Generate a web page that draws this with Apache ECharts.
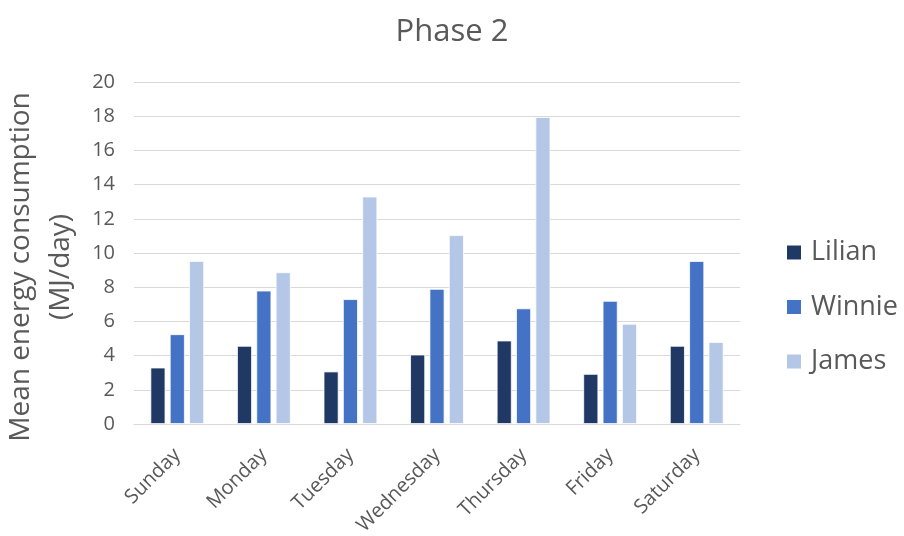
<!DOCTYPE html>
<html>
<head>
<meta charset="utf-8">
<script src="https://cdn.jsdelivr.net/npm/echarts@6/dist/echarts.min.js"></script>
<style>
  html, body { margin: 0; padding: 0; background: #fff; }
  #chart { width: 904px; height: 536px; }
</style>
</head>
<body>
<div id="chart"></div>
<script>
// Weekly mean energy consumption, phase 2
const days = ['Sunday', 'Monday', 'Tuesday', 'Wednesday', 'Thursday', 'Friday', 'Saturday'];
const lilian = [3.3, 4.57, 3.07, 4.06, 4.88, 2.93, 4.57];
const winnie = [5.25, 7.8, 7.3, 7.9, 6.76, 7.2, 9.53];
const james = [9.53, 8.87, 13.3, 11.04, 17.95, 5.86, 4.79];
const yTicks = { min: 0, max: 20, step: 2 };

const FONT = '"Open Sans", sans-serif';
const TXT = '#595959';

const chart = echarts.init(document.getElementById('chart'), null, { renderer: 'canvas' });

function bar(name, data, color) {
  return {
    name, type: 'bar', data,
    barWidth: 15, barGap: '29%',
    itemStyle: { color, borderColor: '#ffffff', borderWidth: 0.8 }
  };
}

chart.setOption({
  animation: false,
  textStyle: { fontFamily: FONT },
  title: {
    text: 'Phase 2', left: 'center', top: 12,
    textStyle: { fontFamily: FONT, fontSize: 31, fontWeight: 'normal', color: TXT }
  },
  legend: {
    orient: 'vertical', left: 785, top: 239, padding: 0,
    itemWidth: 16, itemHeight: 16, itemGap: 27.5,
    icon: 'rect',
    textStyle: { fontFamily: FONT, fontSize: 27, color: TXT, padding: [0, 0, 0, 4] },
    data: ['Lilian', 'Winnie', 'James']
  },
  grid: { left: 134, right: 164, top: 82, bottom: 112, containLabel: false, outerBoundsMode: 'none' },
  xAxis: {
    type: 'category', data: days,
    axisLine: { lineStyle: { color: '#d9d9d9', width: 1 } },
    axisTick: { show: false },
    axisLabel: { rotate: 45, fontFamily: FONT, fontSize: 20, color: TXT, margin: 28, interval: 0 }
  },
  yAxis: {
    type: 'value', min: yTicks.min, max: yTicks.max, interval: yTicks.step,
    name: 'Mean energy consumption\n(MJ/day)',
    nameLocation: 'middle', nameRotate: 90, nameGap: 52,
    nameTextStyle: { fontFamily: FONT, fontSize: 28, color: TXT, lineHeight: 40, padding: [0, 28, 0, 0] },
    axisLine: { show: false }, axisTick: { show: false },
    axisLabel: { fontFamily: FONT, fontSize: 20, color: TXT, margin: 19 },
    splitLine: { lineStyle: { color: '#d9d9d9', width: 1.2 } }
  },
  series: [
    bar('Lilian', lilian, '#203864'),
    bar('Winnie', winnie, '#4472C4'),
    bar('James', james, '#B4C7E7')
  ]
});
</script>
</body>
</html>
